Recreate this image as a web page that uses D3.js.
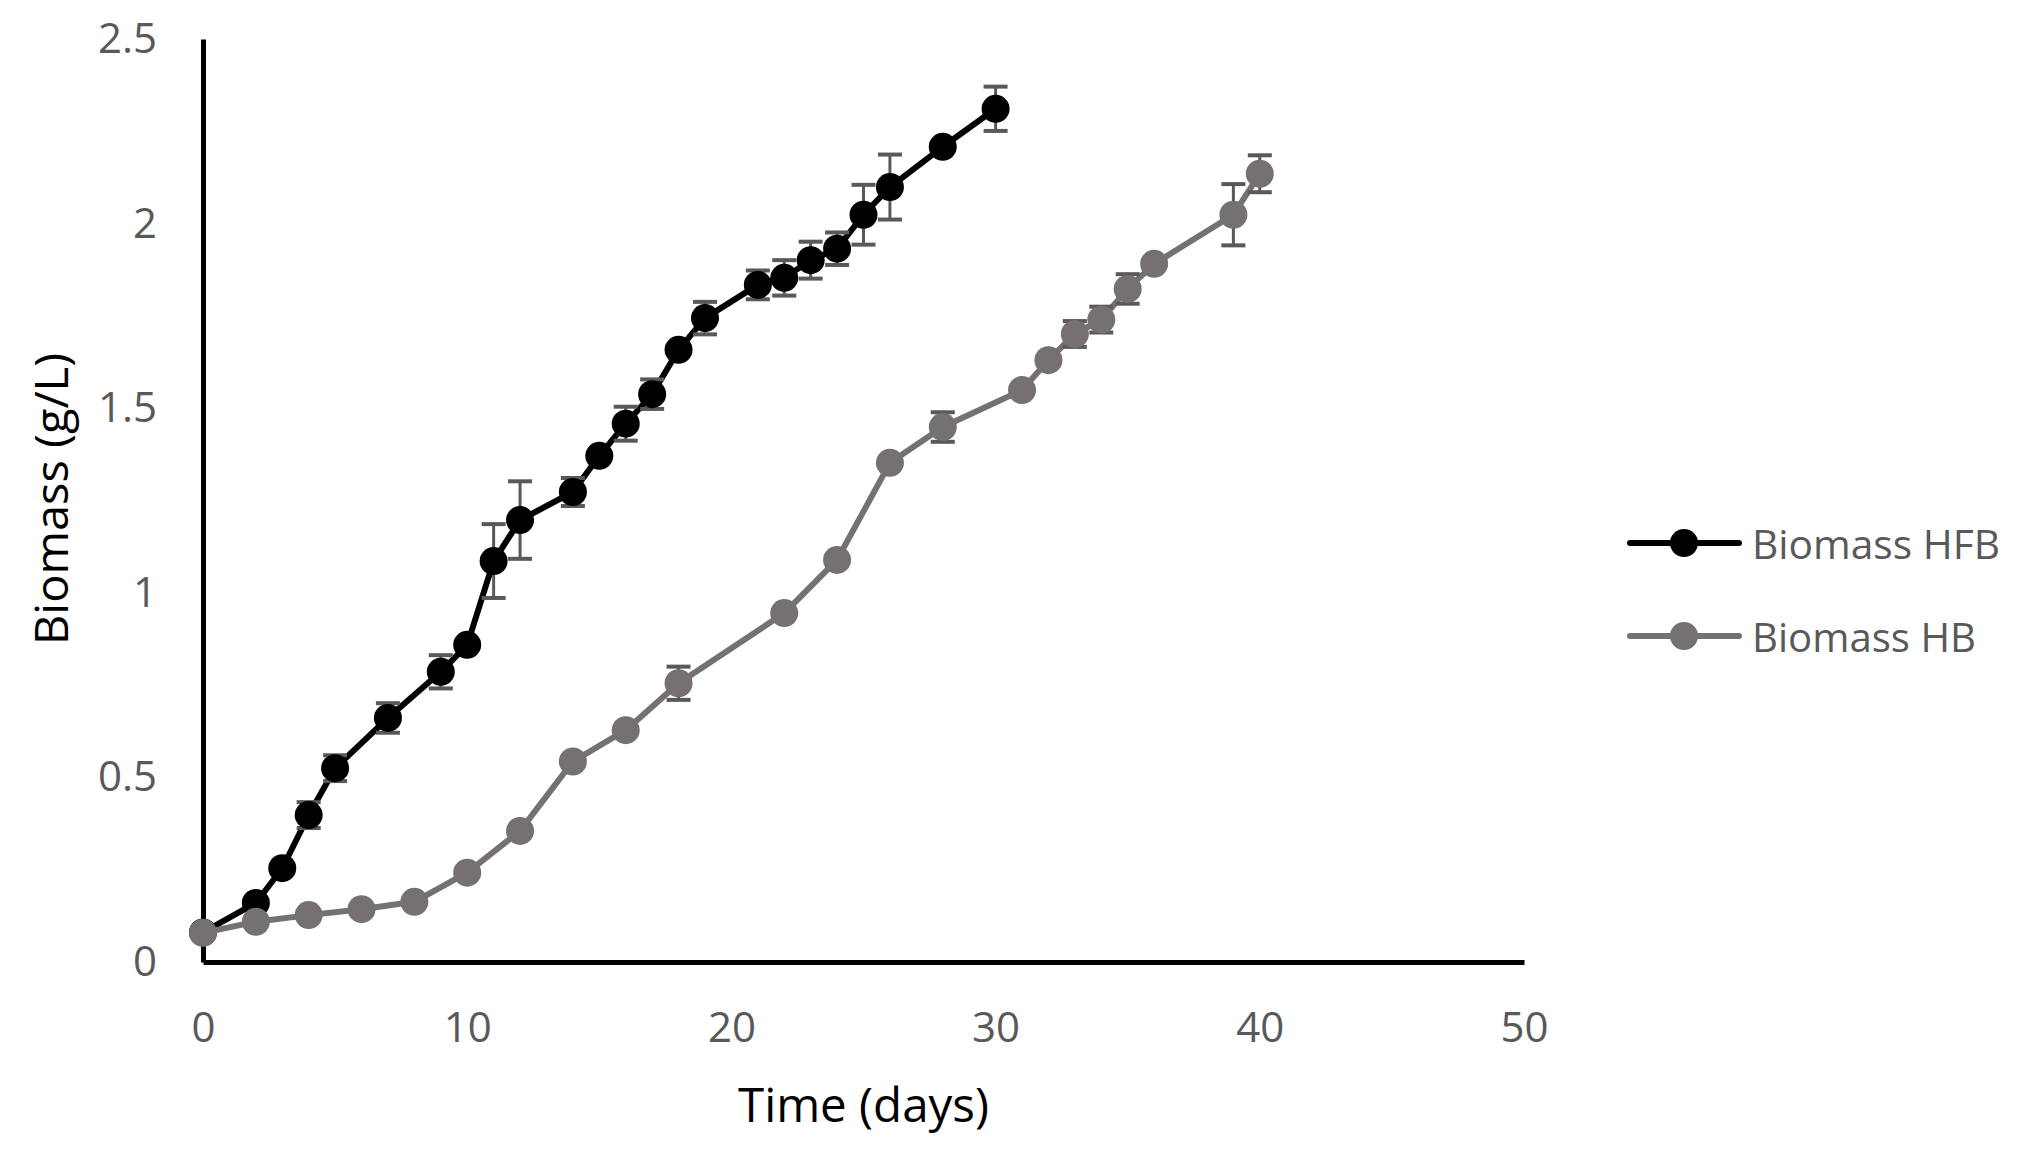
<!DOCTYPE html>
<html>
<head>
<meta charset="utf-8">
<script src="https://cdn.jsdelivr.net/npm/d3@7"></script>
<style>
  html, body { margin: 0; padding: 0; background: #fff; }
  svg text { font-family: "Open Sans", "Noto Sans", sans-serif; }
</style>
</head>
<body>
<svg id="chart" width="2019" height="1149"></svg>
<script>
// ---- Data ----
const seriesNames = ["Biomass HFB", "Biomass HB"];

const daysHFB = [0, 2, 3, 4, 5, 7, 9, 10, 11, 12, 14, 15, 16, 17, 18, 19, 21, 22, 23, 24, 25, 26, 28, 30];
const biomassHFB = [0.080, 0.160, 0.254, 0.398, 0.525, 0.661, 0.786, 0.859, 1.086, 1.197, 1.273, 1.371, 1.458, 1.538, 1.658, 1.744, 1.834, 1.853, 1.901, 1.932, 2.024, 2.099, 2.208, 2.311];
const errHFB = [0, 0, 0, 0.035, 0.035, 0.04, 0.045, 0, 0.10, 0.105, 0.038, 0, 0.046, 0.04, 0, 0.044, 0.039, 0.048, 0.05, 0.044, 0.081, 0.088, 0, 0.06];

const daysHB = [0, 2, 4, 6, 8, 10, 12, 14, 16, 18, 22, 24, 26, 28, 31, 32, 33, 34, 35, 36, 39, 40];
const biomassHB = [0.079, 0.109, 0.127, 0.143, 0.163, 0.242, 0.355, 0.543, 0.628, 0.755, 0.945, 1.089, 1.352, 1.449, 1.549, 1.630, 1.701, 1.740, 1.823, 1.891, 2.024, 2.135];
const errHB = [0, 0, 0, 0, 0, 0, 0, 0, 0, 0.045, 0, 0, 0, 0.04, 0, 0, 0.035, 0.035, 0.04, 0, 0.083, 0.05];

const xTicks = [0, 10, 20, 30, 40, 50];
const yTicks = [0, 0.5, 1, 1.5, 2, 2.5];
const xTitle = "Time (days)";
const yTitle = "Biomass (g/L)";

// ---- Layout ----
const plotLeft = 203, plotRight = 1524, plotTop = 39, plotBottom = 962;
const textColor = "#595959";
const errColor = "#595959";
const colors = ["#000000", "#767171"];

const svg = d3.select("#chart");
const x = d3.scaleLinear().domain([0, 50]).range([plotLeft, plotRight]);
const y = d3.scaleLinear().domain([0, 2.5]).range([plotBottom, plotTop]);

// Axes
const xAxis = d3.axisBottom(x).tickValues(xTicks).tickSize(0).tickPadding(50)
  .tickFormat(d3.format("d"));
const yAxis = d3.axisLeft(y).tickValues(yTicks).tickSize(0).tickPadding(46)
  .tickFormat(d => d3.format("")(d));

const gx = svg.append("g").attr("transform", `translate(0,${plotBottom})`).call(xAxis);
const gy = svg.append("g").attr("transform", `translate(${plotLeft},0)`).call(yAxis);

[gx, gy].forEach(g => {
  g.select(".domain").attr("stroke", "#000").attr("stroke-width", 5);
  g.selectAll(".tick text").attr("fill", textColor).attr("font-size", 42)
    .attr("font-family", '"Open Sans", "Noto Sans", sans-serif');
});

// Axis titles
svg.append("text")
  .attr("x", (plotLeft + plotRight) / 2).attr("y", 1122)
  .attr("text-anchor", "middle").attr("font-size", 48).attr("fill", "#000")
  .attr("textLength", 251).attr("lengthAdjust", "spacingAndGlyphs")
  .text(xTitle);

svg.append("text")
  .attr("transform", `translate(68,499) rotate(-90)`)
  .attr("text-anchor", "middle").attr("font-size", 46).attr("fill", "#000")
  .attr("textLength", 292).attr("lengthAdjust", "spacingAndGlyphs")
  .text(yTitle);

// Series
const series = [
  { name: seriesNames[0], days: daysHFB, vals: biomassHFB, errs: errHFB, color: colors[0] },
  { name: seriesNames[1], days: daysHB, vals: biomassHB, errs: errHB, color: colors[1] }
];

const line = d3.line().x(d => x(d.t)).y(d => y(d.v));
const capHalf = 12, r = 14;

series.forEach(s => {
  const pts = s.days.map((t, i) => ({ t, v: s.vals[i], e: s.errs[i] }));
  const g = svg.append("g");
  g.append("path").datum(pts).attr("d", line)
    .attr("fill", "none").attr("stroke", s.color).attr("stroke-width", 6)
    .attr("stroke-linejoin", "round");

  const eb = g.selectAll(".err").data(pts.filter(p => p.e > 0)).enter().append("g");
  eb.append("line")
    .attr("x1", d => x(d.t)).attr("x2", d => x(d.t))
    .attr("y1", d => y(d.v - d.e)).attr("y2", d => y(d.v + d.e))
    .attr("stroke", errColor).attr("stroke-width", 3);
  [1, -1].forEach(sgn => {
    eb.append("line")
      .attr("x1", d => x(d.t) - capHalf).attr("x2", d => x(d.t) + capHalf)
      .attr("y1", d => y(d.v + sgn * d.e)).attr("y2", d => y(d.v + sgn * d.e))
      .attr("stroke", errColor).attr("stroke-width", 4);
  });

  g.selectAll("circle").data(pts).enter().append("circle")
    .attr("cx", d => x(d.t)).attr("cy", d => y(d.v)).attr("r", r)
    .attr("fill", s.color);
});

// Legend
const legY = [543, 636];
series.forEach((s, i) => {
  const g = svg.append("g");
  g.append("line").attr("x1", 1630).attr("x2", 1739).attr("y1", legY[i]).attr("y2", legY[i])
    .attr("stroke", s.color).attr("stroke-width", 6).attr("stroke-linecap", "round");
  g.append("circle").attr("cx", 1684).attr("cy", legY[i]).attr("r", r).attr("fill", s.color);
  g.append("text").attr("x", 1752).attr("y", legY[i] + 16)
    .attr("font-size", 40).attr("fill", textColor)
    .attr("textLength", i === 0 ? 248 : 224).attr("lengthAdjust", "spacingAndGlyphs")
    .text(s.name);
});
</script>
</body>
</html>
